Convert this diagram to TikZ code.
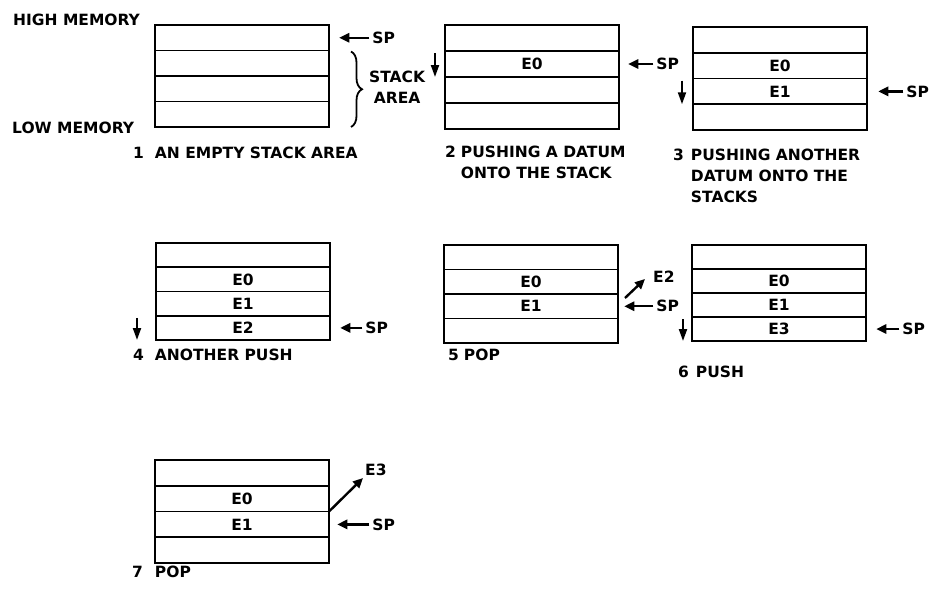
\documentclass[tikz,border=0pt]{standalone}
\usepackage{fontspec}
\setmainfont{DejaVu Sans}
\usetikzlibrary{arrows.meta,positioning,fit,calc,decorations.pathreplacing}

\begin{document}
\begin{tikzpicture}[
  x=1pt, y=-1pt,
  font=\bfseries\fontsize{15.5}{21}\selectfont,
  cell/.style={draw, line width=1.8pt, minimum width=174pt, inner sep=0pt, outer sep=0pt},
  frame/.style={draw, line width=2.5pt, inner sep=0pt},
  ptr/.style={-{Triangle[length=10pt,width=9pt]}, line width=2.4pt},
  push/.style={-{Triangle[length=12pt,width=8pt]}, line width=2pt},
  pop/.style={-{Triangle[length=10pt,width=9pt]}, line width=2.4pt},
  lbl/.style={inner sep=0pt, anchor=west},
  caption/.style={inner sep=0pt, anchor=base west}
]
\useasboundingbox (0,0) rectangle (930,589);

% the seven snapshots of the stack
\foreach \p/\x/\y/\h/\ca/\cb/\cc/\cd in {
    1/155/25/25.5/{}/{}/{}/{},
    2/445/25/26/{}/E0/{}/{},
    3/693/27/25.75/{}/E0/E1/{},
    4/156/243/24.25/{}/E0/E1/E2,
    5/444/245/24.5/{}/E0/E1/{},
    6/692/245/24/{}/E0/E1/E3,
    7/155/460/25.75/{}/E0/E1/{}} {
  \node[cell, minimum height=\h pt, anchor=north west] (s\p-1) at (\x,\y) {\ca};
  \node[cell, minimum height=\h pt, below=0pt of s\p-1] (s\p-2) {\cb};
  \node[cell, minimum height=\h pt, below=0pt of s\p-2] (s\p-3) {\cc};
  \node[cell, minimum height=\h pt, below=0pt of s\p-3] (s\p-4) {\cd};
  \node[frame, fit=(s\p-1)(s\p-4)] (f\p) {};
}

\node[caption] (high) at (13,25) {HIGH MEMORY};
\node[caption] (low) at (12,133) {LOW MEMORY};

% stack area brace
\draw[line width=1.8pt, decorate, decoration={brace, amplitude=11pt}]
  ($(s1-2.north east)+(22,1)$) -- ($(s1-4.south east)+(22,0)$);
\node[lbl, align=center] (area) at (369,87) {STACK\\AREA};

% stack pointers
\foreach \p/\r/\g/\l in {1/1/9/33, 2/2/8/28, 3/3/10/28, 4/4/9/25, 5/3/5/32, 6/4/9/26, 7/3/7/35} {
  \coordinate (tip\p) at ($(f\p.east |- s\p-\r)+(\g,0)$);
  \node[lbl] (sp\p) at ($(tip\p)+(\l,0)$) {SP};
  \draw[ptr, shorten <=3pt] (sp\p.west) -- (tip\p);
}

% direction of growth
\foreach \p/\r/\d in {2/2/10, 3/3/11, 4/4/19, 6/4/9} {
  \draw[push] ($(s\p-\r.north west)+(-\d,2)$) -- ($(s\p-\r.south west)+(-\d,0)$);
}

% popped data
\node[lbl] (out5) at (653,277) {E2};
\draw[pop] ($(s5-3.north east)+(7,4)$) -- ($(out5.west)+(-8,2)$);
\node[lbl] (out7) at (365,470) {E3};
\draw[pop] (s7-3.north east) -- ($(out7.west)+(-2,8)$);

% captions
\node[caption] (cap1) at (133,158) {\begin{tabular}[t]{@{}l@{\hskip 11pt}l@{}}1 & AN EMPTY STACK AREA\end{tabular}};
\node[caption] (cap2) at (445,157) {\begin{tabular}[t]{@{}l@{\hskip 5pt}l@{}}2 & PUSHING A DATUM\\ & ONTO THE STACK\end{tabular}};
\node[caption] (cap3) at (673,160) {\begin{tabular}[t]{@{}l@{\hskip 7pt}l@{}}3 & PUSHING ANOTHER\\ & DATUM ONTO THE\\ & STACKS\end{tabular}};
\node[caption] (cap4) at (133,360) {\begin{tabular}[t]{@{}l@{\hskip 11pt}l@{}}4 & ANOTHER PUSH\end{tabular}};
\node[caption] (cap5) at (448,360) {\begin{tabular}[t]{@{}l@{\hskip 5pt}l@{}}5 & POP\end{tabular}};
\node[caption] (cap6) at (678,377) {\begin{tabular}[t]{@{}l@{\hskip 7pt}l@{}}6 & PUSH\end{tabular}};
\node[caption] (cap7) at (132,577) {\begin{tabular}[t]{@{}l@{\hskip 12pt}l@{}}7 & POP\end{tabular}};
\end{tikzpicture}
\end{document}
